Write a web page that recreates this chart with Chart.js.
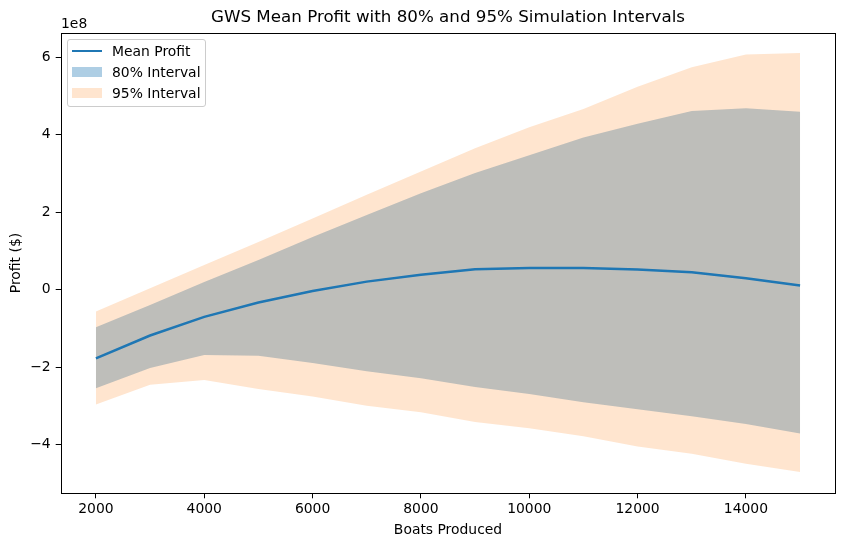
<!DOCTYPE html>
<html>
<head>
<meta charset="utf-8">
<script src="https://cdn.jsdelivr.net/npm/chart.js@4"></script>
<style>
  html, body { margin: 0; padding: 0; background: #fff; }
  #wrap { position: relative; width: 844px; height: 547px; font-family: "DejaVu Sans", sans-serif; }
  canvas { position: absolute; left: 0; top: 0; }
  .legend { position: absolute; left: 67px; top: 39px; width: 137px; height: 66px;
            border: 1px solid #cccccc; border-radius: 3px; background: rgba(255,255,255,0.8); }
  .item { position: absolute; font-size: 13.9px; line-height: 16px; color: #000; white-space: nowrap; }
  .h { position: absolute; }
  .offset { position: absolute; left: 61px; top: 15px; font-size: 13.9px; line-height: 16px; }
</style>
</head>
<body>
<div id="wrap">
  <canvas id="c" width="844" height="547"></canvas>
  <div class="offset">1e8</div>
  <div class="legend" id="legend"></div>
</div>
<script>
// ---- data (profit in dollars) ----
const boats = [2000, 3000, 4000, 5000, 6000, 7000, 8000, 9000, 10000, 11000, 12000, 13000, 14000, 15000];
const meanProfit = [-1.77e8, -1.18e8, -0.70e8, -0.33e8, -0.03e8, 0.21e8, 0.39e8, 0.53e8, 0.56e8, 0.56e8, 0.52e8, 0.45e8, 0.30e8, 0.11e8];
const p80Upper = [-0.97e8, -0.39e8, 0.20e8, 0.77e8, 1.36e8, 1.93e8, 2.49e8, 3.01e8, 3.47e8, 3.93e8, 4.28e8, 4.61e8, 4.68e8, 4.59e8];
const p80Lower = [-2.54e8, -2.02e8, -1.68e8, -1.70e8, -1.89e8, -2.10e8, -2.28e8, -2.51e8, -2.69e8, -2.90e8, -3.08e8, -3.26e8, -3.46e8, -3.71e8];
const p95Upper = [-0.56e8, 0.04e8, 0.64e8, 1.23e8, 1.84e8, 2.45e8, 3.05e8, 3.65e8, 4.19e8, 4.66e8, 5.24e8, 5.74e8, 6.07e8, 6.11e8];
const p95Lower = [-2.96e8, -2.45e8, -2.33e8, -2.56e8, -2.75e8, -2.99e8, -3.16e8, -3.41e8, -3.57e8, -3.78e8, -4.04e8, -4.23e8, -4.49e8, -4.70e8];
const xTicks = [2000, 4000, 6000, 8000, 10000, 12000, 14000];
const yTicks = [-4e8, -2e8, 0, 2e8, 4e8, 6e8];

const C0 = '#1f77b4';
const blueFill = 'rgba(31,119,180,0.36)';
const orangeFill = 'rgba(255,127,14,0.2)';

const pts = arr => arr.map((v, i) => ({x: boats[i], y: v}));
const FONT = {family: '"DejaVu Sans", sans-serif', size: 13.9};

const frame = {
  id: 'frame',
  afterDraw(chart) {
    const {ctx, chartArea: a} = chart;
    ctx.save();
    ctx.strokeStyle = '#000';
    ctx.lineWidth = 1;
    ctx.strokeRect(Math.round(a.left) + 0.5, Math.round(a.top) + 0.5,
                   Math.round(a.right - a.left) - 1, Math.round(a.bottom - a.top) - 1);
    ctx.restore();
  }
};

new Chart(document.getElementById('c'), {
  type: 'line',
  data: {
    datasets: [
      {label: 'Mean Profit', data: pts(meanProfit), borderColor: C0, borderWidth: 2.5,
       pointRadius: 0, fill: false, tension: 0},
      {label: '95% Interval', data: pts(p95Upper), borderWidth: 0, borderColor: 'rgba(0,0,0,0)',
       backgroundColor: orangeFill, pointRadius: 0, fill: '+1'},
      {label: '95 lower', data: pts(p95Lower), borderWidth: 0, borderColor: 'rgba(0,0,0,0)',
       pointRadius: 0, fill: false},
      {label: '80% Interval', data: pts(p80Upper), borderWidth: 0, borderColor: 'rgba(0,0,0,0)',
       backgroundColor: blueFill, pointRadius: 0, fill: '+1'},
      {label: '80 lower', data: pts(p80Lower), borderWidth: 0, borderColor: 'rgba(0,0,0,0)',
       pointRadius: 0, fill: false}
    ]
  },
  options: {
    responsive: false,
    animation: false,
    devicePixelRatio: 1,
    layout: {padding: {left: 0, right: 8.7, top: 0, bottom: 0}},
    plugins: {
      legend: {display: false},
      tooltip: {enabled: false},
      title: {
        display: true, fullSize: false,
        text: 'GWS Mean Profit with 80% and 95% Simulation Intervals',
        color: '#000', font: {family: FONT.family, size: 16.7, weight: 'normal', lineHeight: 1.2},
        padding: {top: 8, bottom: 4.7}
      }
    },
    scales: {
      x: {
        type: 'linear', min: 1350, max: 15650,
        afterBuildTicks: s => { s.ticks = xTicks.map(v => ({value: v})); },
        afterFit: s => { s.height = 53.7; },
        grid: {drawOnChartArea: false, drawTicks: true, tickLength: 5, color: '#000', tickWidth: 1},
        border: {display: false},
        ticks: {color: '#000', font: FONT, padding: 3, maxRotation: 0, autoSkip: false,
                callback: v => String(v)},
        title: {display: true, text: 'Boats Produced', color: '#000', font: FONT, padding: {top: 0, bottom: 8.7}}
      },
      y: {
        type: 'linear', min: -5.25e8, max: 6.63e8,
        afterBuildTicks: s => { s.ticks = yTicks.map(v => ({value: v})); },
        afterFit: s => { s.width = 60.7; },
        grid: {drawOnChartArea: false, drawTicks: true, tickLength: 5, color: '#000', tickWidth: 1},
        border: {display: false},
        ticks: {color: '#000', font: FONT, padding: 5, autoSkip: false,
                callback: v => { const n = Math.round(v / 1e8); return n < 0 ? '\u2212' + Math.abs(n) : String(n); }},
        title: {display: true, text: 'Profit ($)', color: '#000', font: FONT, padding: {top: 7.7, bottom: 0}}
      }
    }
  },
  plugins: [frame]
});

// HTML legend
const legendItems = [
  {label: 'Mean Profit', kind: 'line', color: C0},
  {label: '80% Interval', kind: 'patch', color: blueFill},
  {label: '95% Interval', kind: 'patch', color: orangeFill}
];
const lg = document.getElementById('legend');
legendItems.forEach((it, i) => {
  const cy = 11 + 21.2 * i; // center relative to legend box
  const h = document.createElement('div');
  h.className = 'h';
  h.style.left = '4px';
  h.style.width = '30px';
  if (it.kind === 'line') {
    h.style.top = (cy - 1.25) + 'px'; h.style.height = '2.5px';
  } else {
    h.style.top = (cy - 5) + 'px'; h.style.height = '10px';
  }
  h.style.background = it.color;
  lg.appendChild(h);
  const t = document.createElement('div');
  t.className = 'item';
  t.style.left = '44px';
  t.style.top = (cy - 8) + 'px';
  t.textContent = it.label;
  lg.appendChild(t);
});
</script>
</body>
</html>
